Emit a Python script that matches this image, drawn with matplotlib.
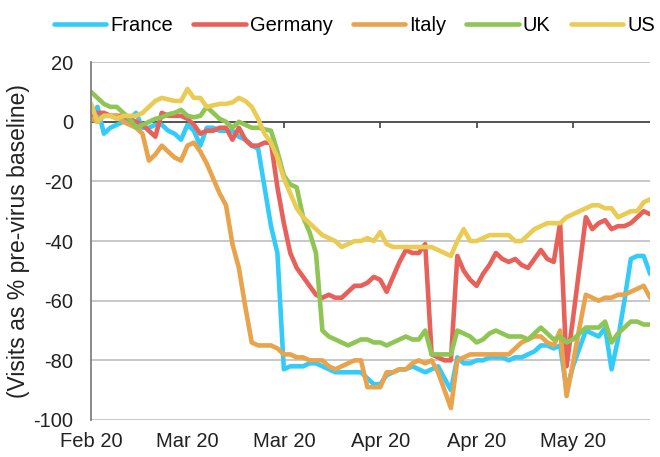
import numpy as np
import pandas as pd
import matplotlib
matplotlib.use("Agg")
import matplotlib.pyplot as plt
import matplotlib.dates as mdates

plt.rcParams['font.family'] = ['Liberation Sans', 'DejaVu Sans']
plt.rcParams['axes.unicode_minus'] = False

# daily values, 17 Feb 2020 onwards
dates = pd.date_range("2020-02-17", periods=88, freq="D")

france = [2, 5, -4, -2, -1, 0, 1, 3, -2, -2,
          -1, -1, -3, -4, -6, -1, -3, -8, -2, -2,
          -3, -3, -3, -5, -6, -8, -9, -22, -35, -44,
          -83, -82, -82, -82, -81, -81, -82, -83, -84, -84,
          -84, -84, -84, -86, -88, -88, -85, -84, -83, -83,
          -82, -83, -84, -83, -82, -86, -90, -79, -81, -81,
          -80, -80, -79, -79, -79, -80, -79, -79, -78, -77,
          -75, -75, -76, -75, -90, -82, -76, -70, -71, -72,
          -69, -83, -73, -60, -46, -45, -45, -51]
germany = [2, 3, 3, 2, 2, 2, 1, 0, -1, -3,
           -5, 3, 2, 2, 2, 1, -1, -4, -3, -3,
           -2, -2, -6, -2, -6, -8, -8, -7, -7, -22,
           -34, -44, -49, -52, -55, -58, -59, -58, -59, -59,
           -57, -55, -55, -54, -52, -53, -57, -52, -47, -43,
           -44, -44, -41, -78, -79, -80, -80, -45, -50, -53,
           -55, -51, -48, -44, -46, -47, -46, -48, -49, -46,
           -43, -46, -47, -34, -82, -66, -49, -32, -36, -34,
           -33, -36, -35, -35, -34, -32, -30, -31]
italy = [1, 0, 2, 2, 2, 0, -1, -2, -4, -13,
         -11, -8, -10, -12, -13, -8, -7, -10, -14, -19,
         -24, -28, -41, -49, -62, -74, -75, -75, -75, -76,
         -78, -78, -79, -79, -80, -80, -80, -82, -83, -82,
         -81, -80, -80, -89, -89, -89, -84, -84, -83, -83,
         -81, -80, -81, -80, -84, -90, -96, -80, -79, -78,
         -78, -78, -78, -78, -78, -78, -76, -74, -73, -72,
         -72, -74, -75, -70, -92, -81, -69, -58, -59, -60,
         -59, -59, -58, -58, -57, -56, -55, -59]
uk = [10, 8, 6, 5, 5, 3, 1, -2, -1, 0,
      1, 1.5, 2.5, 3, 4, 2, 1.5, 2, 5, 3,
      1, 0, -2, 0, -1, -2, -2, -2.5, -3, -10,
      -18, -21, -22, -32, -37, -44, -70, -72, -73, -74,
      -75, -74, -73, -73, -74, -74, -75, -74, -73, -72,
      -73, -73, -70, -78, -78, -78, -78, -70, -71, -72,
      -74, -73, -71, -70, -71, -72, -72, -72, -73, -71,
      -69, -71, -73, -72, -74, -73, -71, -69, -69, -69,
      -67, -74, -71, -69, -67, -67, -68, -68]
us = [6, 0, 2, 2, 1, 2, 2, 2, 3, 5,
      7, 8, 7.5, 7, 7, 11, 8, 8, 5, 5.5,
      6, 6, 6.5, 8, 7, 5, 1, -4, -7, -12,
      -19, -24, -29, -32, -34, -36, -38, -39, -40, -42,
      -41, -40, -40, -39, -40, -37, -41, -42, -42, -42,
      -42, -42, -42, -42, -43, -44, -45, -40, -36, -40,
      -40, -39, -38, -38, -38, -38, -40, -40, -38, -36,
      -35, -34, -34, -34, -32, -31, -30, -29, -28, -28,
      -29, -29, -32, -31, -30, -30, -27, -26]

series = [("France", france, "#33CCFA"),
          ("Germany", germany, "#E8605A"),
          ("Italy", italy, "#E8A34B"),
          ("UK", uk, "#8FC653"),
          ("US", us, "#EACB54")]

y_ticks = [20, 0, -20, -40, -60, -80, -100]

fig = plt.figure(figsize=(6.6, 4.57), dpi=100)
ax = fig.add_axes([0.138, 0.081, 0.847, 0.783])

for name, vals, col in series:
    ax.plot(dates, vals, color=col, lw=3.3, label=name,
            solid_joinstyle="round", solid_capstyle="round")

ax.set_ylim(-100, 20)
ax.set_xlim(dates[0], dates[-1])
ax.set_yticks(y_ticks)
ax.yaxis.grid(True, color="#c4c4c4", lw=1.3)
ax.set_axisbelow(True)

# date axis crosses at zero, ticks every 15 days
xt = pd.date_range(dates[0], dates[-1], freq="15D")
ax.set_xticks(xt)
ax.xaxis.set_major_formatter(mdates.DateFormatter("%b %y"))
ax.axhline(0, color="#404040", lw=1.2, zorder=1.5)
ax.vlines(xt[1:], -2, 0, color="#404040", lw=1.2, zorder=1.5)

for s in ["top", "right", "bottom"]:
    ax.spines[s].set_visible(False)
ax.spines["left"].set_color("#808080")
ax.spines["left"].set_linewidth(1.3)

ax.tick_params(axis="y", length=0, pad=13, labelsize=14.5, labelcolor="#222222")
ax.tick_params(axis="x", length=0, pad=9, labelsize=14.5, labelcolor="#222222")
ax.set_ylabel("(Visits as % pre-virus baseline)", fontsize=16.5, color="#222222", labelpad=2)

fig.legend(loc="center", bbox_to_anchor=(0.537, 0.945), ncol=5, frameon=False,
           fontsize=14.5, handlelength=2.6, handletextpad=0.2, columnspacing=1.0)

fig.savefig("out.png", dpi=100)
